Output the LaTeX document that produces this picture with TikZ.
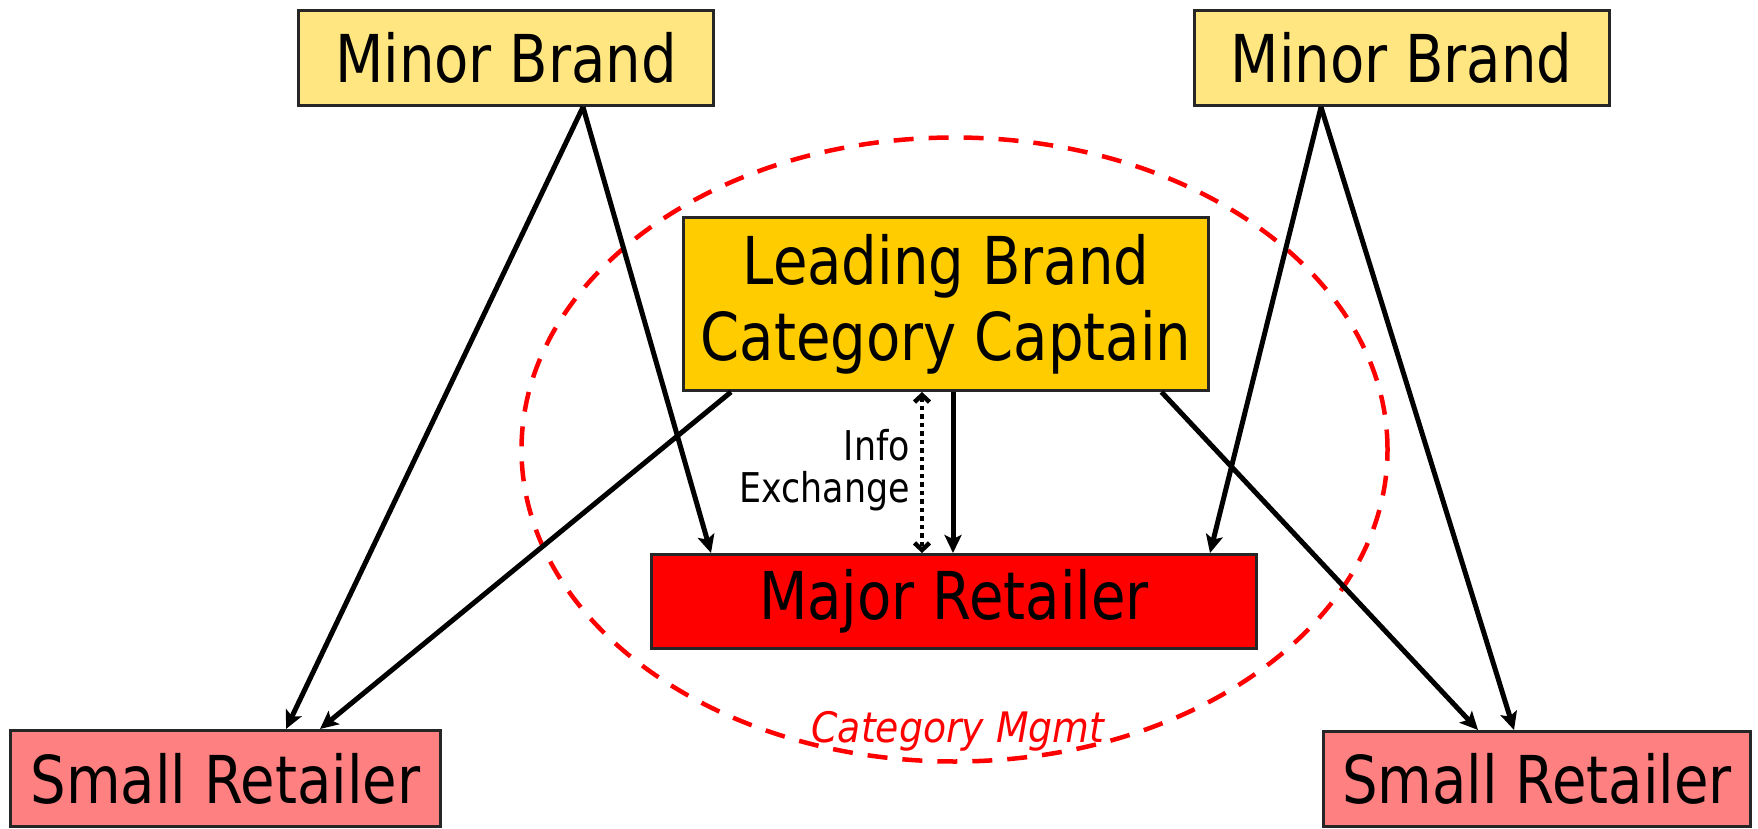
\documentclass[tikz,border=0pt]{standalone}
\usepackage{fontspec}
\setmainfont{DejaVu Sans}[FakeStretch=0.85]
\newfontfamily\catfont{DejaVu Sans}[FakeStretch=0.9]
\usetikzlibrary{arrows.meta}

\definecolor{minorfill}{HTML}{FFE680}
\definecolor{leadfill}{HTML}{FFCC00}
\definecolor{majorfill}{HTML}{FF0000}
\definecolor{smallfill}{HTML}{FF8080}

\tikzset{
  box/.style={draw=black!85, line width=3pt, inner sep=0pt, align=center,
              font=\fontsize{66}{76}\selectfont},
  link/.style={line width=5pt, -{Stealth[length=18pt,width=17pt,inset=4pt]}},
  infolink/.style={line width=4.5pt, dash pattern=on 4.5pt off 4pt,
              {Straight Barb[length=7pt,width=15pt]}-{Straight Barb[length=7pt,width=15pt]}},
  smalltext/.style={inner sep=0pt, font=\fontsize{41}{42}\selectfont},
}

\begin{document}
\begin{tikzpicture}[x=1pt,y=-1pt]
\useasboundingbox (0,0) rectangle (1758,829);

% category management zone
\draw[red, line width=4.5pt, dash pattern=on 20pt off 15pt]
  (954.5,449.5) ellipse [x radius=433pt, y radius=312pt];

% boxes
\node[box, fill=minorfill, minimum width=415pt, minimum height=95pt] (minorL) at (506,58) {Minor Brand};
\node[box, fill=minorfill, minimum width=415pt, minimum height=95pt] (minorR) at (1401.5,58) {Minor Brand};
\node[box, fill=leadfill, minimum width=525pt, minimum height=173pt] (leading) at (946,304) {Leading Brand\\Category Captain};
\node[box, fill=majorfill, minimum width=605pt, minimum height=94pt] (major) at (954,601.5) {Major Retailer};
\node[box, fill=smallfill, minimum width=430pt, minimum height=96pt] (smallL) at (225.5,778.5) {Small Retailer};
\node[box, fill=smallfill, minimum width=427pt, minimum height=95pt] (smallR) at (1537,779) {Small Retailer};

% labels
\node[smalltext, anchor=base east] (info) at (910,460) {Info};
\node[smalltext, anchor=base east] (exch) at (910,502) {Exchange};
\node[inner sep=0pt, anchor=base, text=red, font=\catfont\fontsize{42}{44}\selectfont\itshape] (catmgmt) at (958,742) {Category Mgmt};

% supply links
\draw[link] ([xshift=77pt]minorL.south) -- ([xshift=60.5pt]smallL.north);
\draw[link] ([xshift=77pt]minorL.south) -- ([xshift=-243pt]major.north);
\draw[link] ([xshift=-215pt]leading.south) -- ([xshift=94.5pt]smallL.north);
\draw[infolink] ([xshift=-24pt]leading.south) -- ([xshift=-32pt]major.north);
\draw[link] ([xshift=7pt]leading.south) -- ([xshift=-1pt]major.north);
\draw[link] ([xshift=-80.5pt]minorR.south) -- ([xshift=256pt]major.north);
\draw[link] ([xshift=-80.5pt]minorR.south) -- ([xshift=-23pt]smallR.north);
\draw[link] ([xshift=215.5pt]leading.south) -- ([xshift=-59pt]smallR.north);
\end{tikzpicture}
\end{document}
